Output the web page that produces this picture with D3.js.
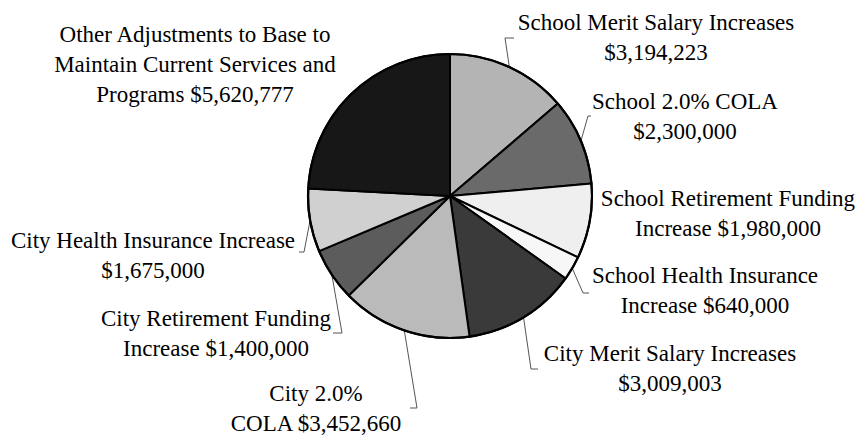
<!DOCTYPE html>
<html>
<head>
<meta charset="utf-8">
<script src="https://cdn.jsdelivr.net/npm/d3@7"></script>
<style>
  html, body { margin: 0; padding: 0; background: #fff; }
  svg { display: block; }
  text { font-family: "Liberation Serif", "Times New Roman", serif; font-size: 23px; fill: #000; }
</style>
</head>
<body>
<svg id="chart" width="859" height="435"></svg>
<script>
// Budget increase components, clockwise from 12 o'clock
const categories = [
  "School Merit Salary Increases",
  "School 2.0% COLA",
  "School Retirement Funding Increase",
  "School Health Insurance Increase",
  "City Merit Salary Increases",
  "City 2.0% COLA",
  "City Retirement Funding Increase",
  "City Health Insurance Increase",
  "Other Adjustments to Base to Maintain Current Services and Programs"
];
const values = [3194223, 2300000, 1980000, 640000, 3009003, 3452660, 1400000, 1675000, 5620777];

// Label text broken into lines; {v} is replaced with the formatted value
const labelLines = [
  ["School Merit Salary Increases", "{v}"],
  ["School 2.0% COLA", "{v}"],
  ["School Retirement Funding", "Increase {v}"],
  ["School Health Insurance", "Increase {v}"],
  ["City Merit Salary Increases", "{v}"],
  ["City 2.0%", "COLA {v}"],
  ["City Retirement Funding", "Increase {v}"],
  ["City Health Insurance Increase", "{v}"],
  ["Other Adjustments to Base to", "Maintain Current Services and", "Programs {v}"]
];

// Grey shade of each slice
const fills = ["#b4b4b4", "#6a6a6a", "#efefef", "#f7f7f7", "#3a3a3a", "#bababa", "#5c5c5c", "#d0d0d0", "#171717"];

// Layout: label anchor (centre x, first-line centre y) and leader-line path points
const layout = {
  cx: 450, cy: 196, r: 142, lineGap: 30,
  labels: [
    { x: 656, y: 22,  leader: [[505, 38], [514, 38]] },
    { x: 685, y: 101, leader: [[588, 116], [591, 116]] },
    { x: 728, y: 198, leader: null },
    { x: 705, y: 275, leader: [[583, 293], [589, 293]] },
    { x: 670, y: 353, leader: [[531, 369], [538, 369]] },
    { x: 316, y: 393, leader: [[417, 408], [410, 408]] },
    { x: 216, y: 318, leader: [[342, 333], [333, 333]] },
    { x: 153, y: 240, leader: [[304, 252], [299, 252]] },
    { x: 195, y: 34,  leader: null }
  ]
};

const fmt = d3.format("$,");
const svg = d3.select("#chart");

const data = categories.map((c, i) => ({ name: c, value: values[i], index: i }));
const pie = d3.pie().sort(null).value(d => d.value).startAngle(0).endAngle(2 * Math.PI);
const arcs = pie(data);
const arc = d3.arc().innerRadius(0).outerRadius(layout.r);

// Leader lines from the rim of each slice to its label
const pointOnRim = a => [layout.cx + layout.r * Math.sin(a), layout.cy - layout.r * Math.cos(a)];
svg.append("g").selectAll("path")
  .data(arcs.filter(a => layout.labels[a.index].leader))
  .join("path")
  .attr("d", a => {
    const mid = (a.startAngle + a.endAngle) / 2;
    return d3.line()([pointOnRim(mid), ...layout.labels[a.index].leader]);
  })
  .attr("fill", "none")
  .attr("stroke", "#555")
  .attr("stroke-width", 1);

const g = svg.append("g").attr("transform", `translate(${layout.cx},${layout.cy})`);

// Slices
g.selectAll("path.slice")
  .data(arcs)
  .join("path")
  .attr("class", "slice")
  .attr("d", arc)
  .attr("fill", a => fills[a.index])
  .attr("stroke", "#000")
  .attr("stroke-width", 2)
  .attr("stroke-linejoin", "round");

// Outer rim
g.append("circle")
  .attr("r", layout.r)
  .attr("fill", "none")
  .attr("stroke", "#000")
  .attr("stroke-width", 2.2);

// Labels
const labels = svg.append("g").selectAll("text")
  .data(arcs)
  .join("text")
  .attr("text-anchor", "middle");
labels.each(function (a) {
  const pos = layout.labels[a.index];
  d3.select(this).selectAll("tspan")
    .data(labelLines[a.index])
    .join("tspan")
    .attr("x", pos.x)
    .attr("y", (s, k) => pos.y + k * layout.lineGap + 8)
    .text(s => s.replace("{v}", fmt(a.data.value)));
});
</script>
</body>
</html>
